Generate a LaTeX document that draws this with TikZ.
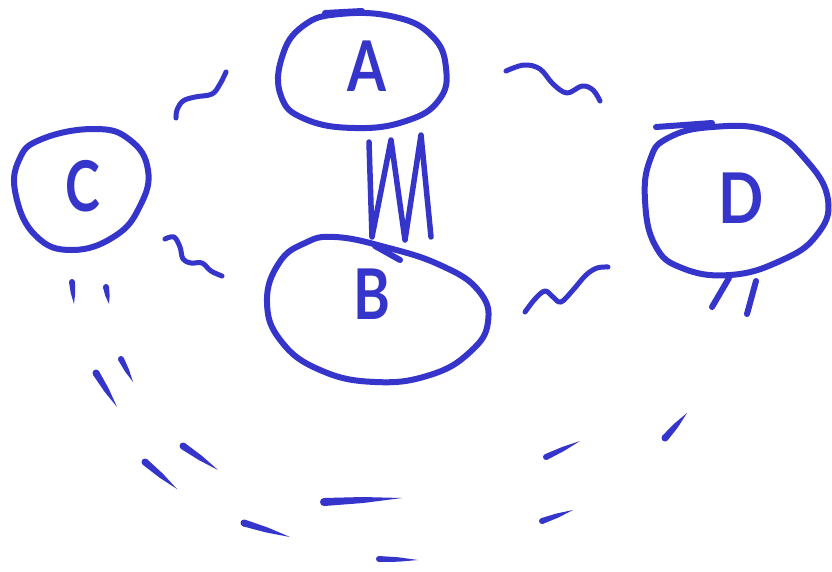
\documentclass[tikz,border=0pt]{standalone}
\usepackage{fontspec}
\setmainfont{Lato}
\usetikzlibrary{calc}
\definecolor{ink}{RGB}{53,53,204}
% #1 thick end, #2 thin end, #3 half width, #4 half width at middle
\newcommand{\taperstroke}[4]{%
  \fill[ink] (#1) circle[radius=#3];
  \fill[ink] ($(#1)!#3!90:(#2)$) -- ($($(#1)!0.5!(#2)$)!#4!90:(#2)$) -- (#2)
    -- ($($(#1)!0.5!(#2)$)!#4!-90:(#2)$) -- ($(#1)!#3!-90:(#2)$) -- cycle;}
\begin{document}
\begin{tikzpicture}[x=1pt,y=-1pt, line cap=round, line join=round,
  pen/.style={draw=ink, line width=6pt},
  squig/.style={draw=ink, line width=5pt},
  lbl/.style={text=ink, font=\fontsize{70}{70}\selectfont\bfseries, inner sep=0pt}]
\useasboundingbox[fill=white] (0,0) rectangle (832,571);

% node labels
\node[lbl, xscale=0.8] (A) at (367,66) {A};
\node[lbl, xscale=0.8] (B) at (372,294) {B};
\node[lbl, xscale=0.75] (C) at (83,186) {C};
\node[lbl, xscale=0.85] (D) at (741,198) {D};

% outlines
\draw[pen] plot[smooth cycle, tension=0.75] coordinates {
  (340,14) (395,17) (432,36) (446,68) (439,100) (406,121) (355,128)
  (305,119) (281,96) (282,57) (303,26)};
\draw[pen] (325,13) -- (362,11);
\draw[pen] plot[smooth cycle, tension=0.75] coordinates {
  (95,129) (130,140) (148,170) (140,206) (115,236) (72,250) (36,236)
  (16,196) (19,160) (42,139)};
\draw[pen] plot[smooth cycle, tension=0.75] coordinates {
  (335,237) (385,247) (440,265) (478,290) (488,322) (470,352) (430,375)
  (375,382) (320,370) (281,341) (267,302) (279,263) (305,243)};
\draw[pen] (375,246) -- (400,260);
\draw[pen] plot[smooth cycle, tension=0.75] coordinates {
  (712,127) (768,131) (806,160) (828,200) (816,236) (780,261) (730,275)
  (682,268) (655,245) (645,200) (650,160) (668,138)};
\draw[pen] (656,127) -- (712,123);

% A -- B zigzag
\draw[pen, line width=5.5pt] (369,142) -- (372,237) -- (391,140) -- (405,240)
  -- (421,135) -- (431,237);

% squiggles
\draw[squig] plot[smooth, tension=0.6] coordinates {
  (226,72) (220,84) (212,94) (195,97) (183,101) (177,110) (176,118)};
\draw[squig] plot[smooth, tension=0.6] coordinates {
  (506,71) (524,65) (540,69) (553,84) (567,93) (582,86) (593,90) (600,101)};
\draw[squig] plot[smooth, tension=0.6] coordinates {
  (165,239) (174,237) (180,247) (183,259) (191,263) (202,263) (211,271) (222,276)};
\draw[squig] plot[smooth, tension=0.6] coordinates {
  (525,312) (535,299) (545,291) (553,297) (561,302) (573,290) (586,275) (597,268) (608,267)};

% D bottom strokes
\draw[pen] (712,307) -- (729,278);
\draw[pen] (747,314) -- (756,281);

% C bottom strokes and dashed arc
\taperstroke{72,282}{74,304}{3pt}{2.2pt}
\taperstroke{106,287}{109,304}{3pt}{2.2pt}
\taperstroke{96,373}{117,407}{3.5pt}{2.6pt}
\taperstroke{121,359}{133,382}{3pt}{2.2pt}
\taperstroke{145,462}{177,489}{3.5pt}{2.6pt}
\taperstroke{183,446}{218,470}{3.5pt}{2.6pt}
\taperstroke{244,523}{290,537}{3.5pt}{2.6pt}
\taperstroke{324,502}{402,498}{4pt}{3pt}
\taperstroke{379,559}{418,560}{3pt}{2.2pt}
\taperstroke{546,457}{580,441}{3pt}{2.2pt}
\taperstroke{542,521}{573,510}{3pt}{2.2pt}
\taperstroke{665,438}{687,413}{3.5pt}{2.6pt}
\end{tikzpicture}
\end{document}
